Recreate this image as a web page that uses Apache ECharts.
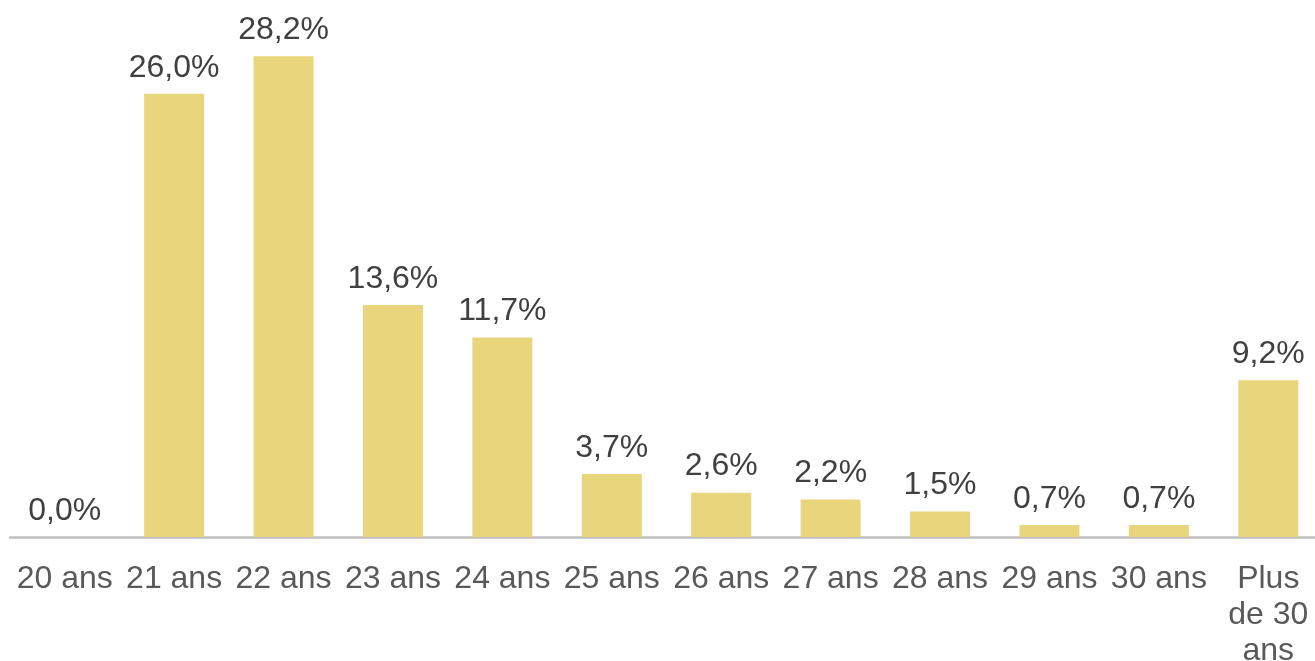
<!DOCTYPE html>
<html>
<head>
<meta charset="utf-8">
<script src="https://cdn.jsdelivr.net/npm/echarts@6/dist/echarts.min.js"></script>
<style>
  html, body { margin: 0; padding: 0; background: #fff; }
  #chart { width: 1315px; height: 661px; }
</style>
</head>
<body>
<div id="chart"></div>
<script>
const categories = ['20 ans', '21 ans', '22 ans', '23 ans', '24 ans', '25 ans', '26 ans', '27 ans', '28 ans', '29 ans', '30 ans', 'Plus\nde 30\nans']
const values = [0.0, 26.0, 28.2, 13.6, 11.7, 3.7, 2.6, 2.2, 1.5, 0.7, 0.7, 9.2]

const chart = echarts.init(document.getElementById('chart'))

chart.setOption({
  animation: false,
  grid: { left: 10, top: 25.5, width: 1313, height: 511.5, containLabel: false, outerBoundsMode: 'none' },
  xAxis: {
    type: 'category',
    data: categories,
    axisLine: { lineStyle: { color: '#bfbfbf', width: 2.5 } },
    axisTick: { show: false },
    axisLabel: {
      interval: 0,
      color: '#595959',
      fontFamily: 'Liberation Sans, Arial, sans-serif',
      fontSize: 32,
      lineHeight: 36,
      margin: 24,
    },
  },
  yAxis: { type: 'value', min: 0, max: 30, show: false },
  series: [{
    type: 'bar',
    data: values,
    barWidth: 60,
    itemStyle: { color: '#e9d57c' },
    label: {
      show: true,
      position: 'top',
      distance: 10,
      color: '#404040',
      fontFamily: 'Liberation Sans, Arial, sans-serif',
      fontSize: 32,
      formatter: p => p.value.toFixed(1).replace('.', ',') + '%',
    },
  }],
})
</script>
</body>
</html>
